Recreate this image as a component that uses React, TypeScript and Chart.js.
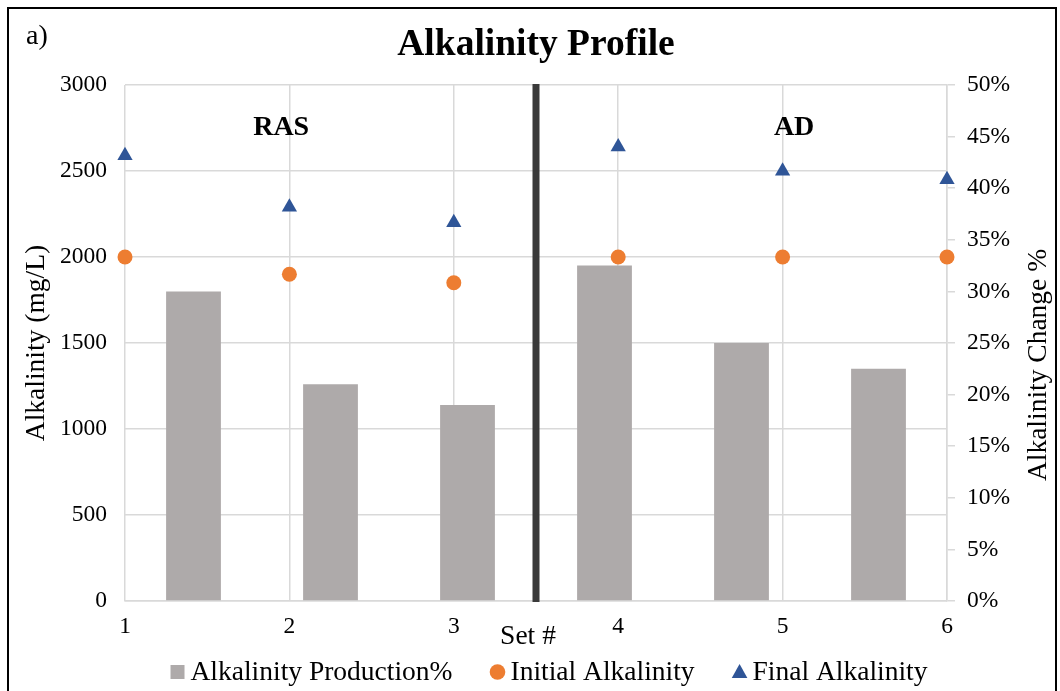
import React, { useEffect, useRef } from "react";
import { Chart, registerables } from "chart.js";

Chart.register(...registerables);

// ---- data ----
const setNumbers = [1, 2, 3, 4, 5, 6];
const setLabels = ["1", "2", "3", "4", "5", "6"];
const productionPct = [0.3, 0.21, 0.19, 0.325, 0.25, 0.225];
const initialAlk = [2000, 1900, 1850, 2000, 2000, 2000];
const finalAlk = [2590, 2290, 2200, 2640, 2500, 2450];
const groupLabels = ["RAS", "AD"];
const groupLabelX = [1.95, 5.07];
const dividerX = 3.5;

const FONT = "'Liberation Serif', 'Times New Roman', serif";
const GRID = "#D9D9D9";
const GRAY = "#AEAAAA";
const ORANGE = "#ED7D31";
const BLUE = "#2F5597";

const overlayPlugin = {
  id: "overlay",
  afterDatasetsDraw(chart: any) {
    const { ctx, chartArea, scales } = chart;
    const x = scales.x2.getPixelForValue(dividerX);
    ctx.save();
    ctx.strokeStyle = "#3A3A3A";
    ctx.lineWidth = 7;
    ctx.beginPath();
    ctx.moveTo(x, chartArea.top - 1);
    ctx.lineTo(x, chartArea.bottom + 1);
    ctx.stroke();
    ctx.restore();
  },
  afterDraw(chart: any) {
    const { ctx, scales } = chart;
    ctx.save();
    // frame
    ctx.strokeStyle = "#000";
    ctx.lineWidth = 2;
    ctx.strokeRect(8, 8, 1048, 700);

    ctx.fillStyle = "#000";
    // a)
    ctx.font = `28px ${FONT}`;
    ctx.textAlign = "left";
    ctx.textBaseline = "middle";
    ctx.fillText("a)", 26, 37);

    // group labels
    ctx.font = `bold 28px ${FONT}`;
    ctx.textAlign = "center";
    groupLabels.forEach((t, i) => {
      ctx.fillText(t, scales.x2.getPixelForValue(groupLabelX[i]), scales.y.getPixelForValue(2750));
    });

    // x axis title
    ctx.font = `27.5px ${FONT}`;
    ctx.fillText("Set #", 528, 637);

    // right axis title
    ctx.save();
    ctx.translate(1039, 365);
    ctx.rotate(-Math.PI / 2);
    ctx.fillText("Alkalinity Change %", 0, 0);
    ctx.restore();

    // legend
    const items = chart.data.datasets.map((d: any) => ({
      label: d.label,
      color: d.backgroundColor,
      style: d.type === "bar" ? "rect" : d.pointStyle,
    }));
    ctx.font = `27.5px ${FONT}`;
    ctx.textAlign = "left";
    const textOff = 13;
    const gap = 45;
    const half = 7;
    let total = 0;
    items.forEach((it: any, i: number) => {
      const w = ctx.measureText(it.label).width;
      it.w = w;
      total += half + textOff + w + (i < items.length - 1 ? gap - half : 0);
    });
    const centerX = 549;
    let cx = centerX - total / 2 + half;
    const cy = 672;
    items.forEach((it: any) => {
      ctx.fillStyle = it.color;
      ctx.beginPath();
      if (it.style === "rect") {
        ctx.rect(cx - 7, cy - 7, 14, 14);
      } else if (it.style === "circle") {
        ctx.arc(cx, cy, 7.8, 0, Math.PI * 2);
      } else {
        ctx.moveTo(cx, cy - 8);
        ctx.lineTo(cx + 7.8, cy + 6);
        ctx.lineTo(cx - 7.8, cy + 6);
        ctx.closePath();
      }
      ctx.fill();
      ctx.fillStyle = "#000";
      ctx.fillText(it.label, cx + textOff, cy + 1);
      cx += textOff + it.w + gap;
    });
    ctx.restore();
  },
};

export default function App() {
  const ref = useRef<HTMLCanvasElement | null>(null);

  useEffect(() => {
    if (!ref.current) return;
    const tickFont = { family: FONT, size: 23.5 };
    const chart = new Chart(ref.current, {
      type: "bar",
      data: {
        labels: setLabels,
        datasets: [
          {
            type: "bar",
            label: "Alkalinity Production%",
            data: productionPct,
            xAxisID: "x",
            yAxisID: "y1",
            backgroundColor: GRAY,
            barPercentage: 0.4,
            categoryPercentage: 1,
            grouped: false,
            order: 2,
          } as any,
          {
            type: "scatter",
            label: "Initial Alkalinity",
            data: setNumbers.map((x, i) => ({ x, y: initialAlk[i] })),
            xAxisID: "x2",
            yAxisID: "y",
            pointStyle: "circle",
            pointRadius: 7.5,
            backgroundColor: ORANGE,
            borderWidth: 0,
            clip: false,
            order: 1,
          } as any,
          {
            type: "scatter",
            label: "Final Alkalinity",
            data: setNumbers.map((x, i) => ({ x, y: finalAlk[i] })),
            xAxisID: "x2",
            yAxisID: "y",
            pointStyle: "triangle",
            pointRadius: 8.8,
            backgroundColor: BLUE,
            borderWidth: 0,
            clip: false,
            order: 1,
          } as any,
        ],
      },
      options: {
        responsive: false,
        animation: false,
        events: [],
        layout: { padding: { top: 8, left: 8, right: 6, bottom: 0 } },
        plugins: {
          legend: { display: false },
          tooltip: { enabled: false },
          title: {
            display: true,
            text: "Alkalinity Profile",
            fullSize: false,
            color: "#000",
            font: { family: FONT, size: 37.5, weight: "bold" },
            padding: { top: 14.5, bottom: 17.5 },
          },
        },
        scales: {
          x: {
            type: "category",
            display: false,
            offset: true,
            grid: { display: false },
          },
          x2: {
            type: "linear",
            position: "bottom",
            min: 1,
            max: 6,
            offset: false,
            ticks: { stepSize: 1, padding: 12, color: "#000", font: tickFont },
            grid: { offset: false, color: GRID, lineWidth: 1.5, drawTicks: false },
            border: { color: GRID, width: 1.5 },
            afterFit: (s: any) => {
              s.height = 90;
            },
          },
          y: {
            type: "linear",
            position: "left",
            min: 0,
            max: 3000,
            ticks: {
              stepSize: 500,
              padding: 18,
              color: "#000",
              font: tickFont,
              callback: (v: any) => String(v),
            },
            grid: { color: GRID, lineWidth: 1.5, drawTicks: false },
            border: { display: false },
            title: {
              display: true,
              text: "Alkalinity (mg/L)",
              color: "#000",
              font: { family: FONT, size: 27.5 },
              padding: { top: 12.5, bottom: 0 },
            },
            afterFit: (s: any) => {
              s.width = 117;
            },
          },
          y1: {
            type: "linear",
            position: "right",
            min: 0,
            max: 0.5,
            ticks: {
              stepSize: 0.05,
              padding: 12,
              color: "#000",
              font: tickFont,
              callback: (v: any) => Math.round(Number(v) * 100) + "%",
            },
            grid: { drawOnChartArea: false, color: GRID, lineWidth: 1.5, tickLength: 8 },
            border: { color: GRID, width: 1.5 },
            afterFit: (s: any) => {
              s.width = 107;
            },
          },
        },
      } as any,
      plugins: [overlayPlugin],
    });
    return () => chart.destroy();
  }, []);

  return (
    <div style={{ position: "fixed", left: 0, top: 0, width: 1060, height: 691, background: "#fff" }}>
      <canvas ref={ref} width={1060} height={691} style={{ display: "block" }} />
    </div>
  );
}
